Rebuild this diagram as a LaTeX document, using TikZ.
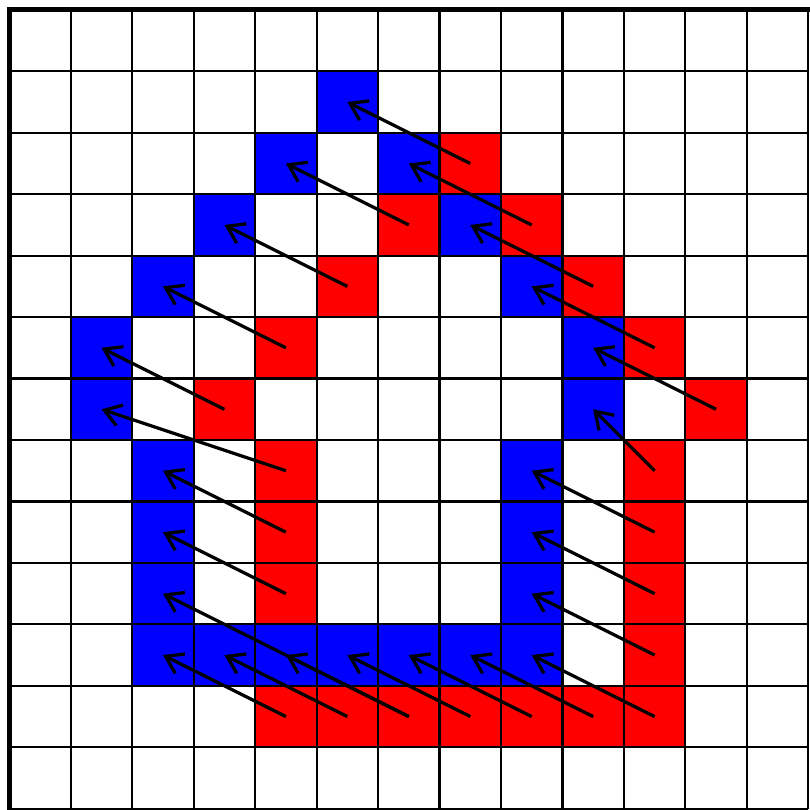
\documentclass[tikz,border=0pt]{standalone}
\usetikzlibrary{arrows.meta}
\tikzset{
  cell/.style={minimum size=1cm, inner sep=0pt, outer sep=0pt, draw=none},
  bluecell/.style={cell, fill=blue},
  redcell/.style={cell, fill=red},
  gridline/.style={line width=1pt},
  frame/.style={line width=2.4pt},
  link/.style={line width=1.5pt, -{Straight Barb[length=7.5pt,width=10pt]}}
}
\begin{document}
\begin{tikzpicture}
\useasboundingbox (-0.152,0.16) rectangle (13.029,-13.005);
\clip (-0.152,0.16) rectangle (13.029,-13.005);
\fill[white] (-0.152,0.16) rectangle (13.029,-13.005);
% blue cells
\foreach \r/\c in {1/5,2/4,2/6,3/3,3/7,4/2,4/8,5/1,5/9,6/1,6/9,7/2,7/8,8/2,8/8,9/2,9/8,10/2,10/3,10/4,10/5,10/6,10/7,10/8}
  \node[bluecell] (b\r-\c) at ({\c+0.5},{-\r-0.5}) {};
% red cells
\foreach \r/\c in {2/7,3/6,3/8,4/5,4/9,5/4,5/10,6/3,6/11,7/4,7/10,8/4,8/10,9/4,9/10,10/10,11/4,11/5,11/6,11/7,11/8,11/9,11/10}
  \node[redcell] (r\r-\c) at ({\c+0.5},{-\r-0.5}) {};
% grid
\draw[gridline] (0,0) grid (13,-13);
\draw[frame] (0,-13.1) -- (0,0) -- (13.1,0);
% arrows
\foreach \a/\b in {r2-7/b1-5,r3-6/b2-4,r3-8/b2-6,r4-5/b3-3,r4-9/b3-7,r5-4/b4-2,r5-10/b4-8,r6-3/b5-1,r6-11/b5-9,r7-4/b6-1,r7-10/b6-9,r8-4/b7-2,r8-10/b7-8,r9-4/b8-2,r9-10/b8-8,r10-10/b9-8,r11-4/b10-2,r11-5/b10-3,r11-6/b10-4,r11-6/b9-2,r11-7/b10-5,r11-8/b10-6,r11-9/b10-7,r11-10/b10-8}
  \draw[link] (\a.center) -- (\b.center);
\end{tikzpicture}
\end{document}
